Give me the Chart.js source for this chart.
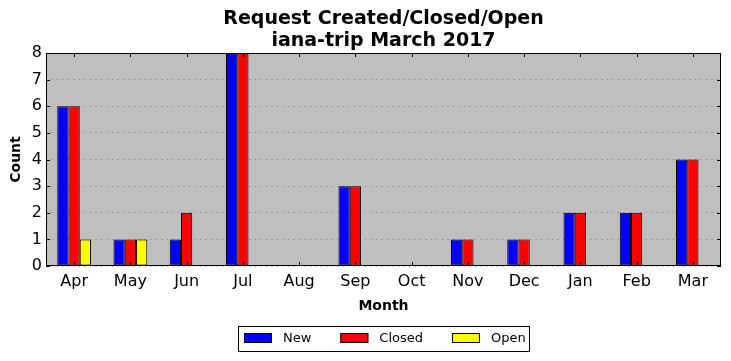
<!DOCTYPE html>
<html>
<head>
<meta charset="utf-8">
<script src="https://cdn.jsdelivr.net/npm/chart.js@4/dist/chart.umd.min.js"></script>
<style>
  html, body { margin: 0; padding: 0; background: #fff; }
  #wrap { width: 731px; height: 361px; }
</style>
</head>
<body>
<div id="wrap"><canvas id="myChart" width="731" height="361"></canvas></div>
<script>
// Daten
const months = ['Apr', 'May', 'Jun', 'Jul', 'Aug', 'Sep', 'Oct', 'Nov', 'Dec', 'Jan', 'Feb', 'Mar'];
const newCounts = [6, 1, 1, 8, 0, 3, 0, 1, 1, 2, 2, 4];
const closedCounts = [6, 1, 2, 8, 0, 3, 0, 1, 1, 2, 2, 4];
const openCounts = [1, 1, 0, 0, 0, 0, 0, 0, 0, 0, 0, 0];
const yTicks = [0, 1, 2, 3, 4, 5, 6, 7, 8];
const titleLines = ['Request Created/Closed/Open', 'iana-trip March 2017'];

const FONT = "'DejaVu Sans', sans-serif";

// Hintergrund, Rahmen, Ticks, Titel und Legende wie matplotlib
const framePlugin = {
    id: 'frame',
    beforeDraw(chart) {
        const a = chart.chartArea;
        const c = chart.ctx;
        c.save();
        c.fillStyle = '#bfbfbf';
        c.fillRect(a.left, a.top, a.right - a.left, a.bottom - a.top);
        c.restore();
    },
    afterDraw(chart) {
        const a = chart.chartArea;
        const c = chart.ctx;
        const x = chart.scales.x;
        const y = chart.scales.y;
        const cx = (a.left + a.right) / 2;
        c.save();
        c.strokeStyle = '#000';
        c.lineWidth = 1;
        c.strokeRect(a.left + 0.5, a.top + 0.5, a.right - a.left - 1, a.bottom - a.top - 1);
        c.beginPath();
        months.forEach((m, i) => {
            const px = Math.round(x.getPixelForValue(i)) + 0.5;
            c.moveTo(px, a.bottom); c.lineTo(px, a.bottom - 4);
            c.moveTo(px, a.top); c.lineTo(px, a.top + 4);
        });
        yTicks.forEach(v => {
            const py = Math.round(y.getPixelForValue(v)) + 0.5;
            c.moveTo(a.left, py); c.lineTo(a.left + 4, py);
            c.moveTo(a.right, py); c.lineTo(a.right - 4, py);
        });
        c.stroke();

        // Titel ueber der Achse zentriert
        c.fillStyle = '#000';
        c.font = 'bold 19px ' + FONT;
        c.textAlign = 'center';
        c.textBaseline = 'middle';
        titleLines.forEach((t, i) => c.fillText(t, cx, 19 + i * 22));

        // Legende selbst zeichnen
        c.font = '13px ' + FONT;
        c.textAlign = 'left';
        const items = chart.data.datasets.map(d => ({ label: d.label, color: d.backgroundColor, w: c.measureText(d.label).width }));
        let total = 0;
        items.forEach((it, i) => { total += 28 + 11 + it.w + (i < items.length - 1 ? 29 : 0); });
        const boxL = cx - (total + 9) / 2;
        const top = 326;
        c.strokeRect(Math.round(boxL) + 0.5, top + 0.5, Math.round(total + 9), 25);
        let px = Math.round(boxL) + 6;
        items.forEach(it => {
            c.fillStyle = it.color;
            c.fillRect(px, 333, 28, 10);
            c.strokeRect(px + 0.5, 333.5, 27, 9);
            c.fillStyle = '#000';
            c.fillText(it.label, px + 39, 339);
            px += 28 + 11 + it.w + 29;
        });
        c.restore();
    }
};

const ctx = document.getElementById('myChart').getContext('2d');

let myChart = new Chart(ctx, {
    type: 'bar',
    data: {
        labels: months,
        datasets: [
            { label: 'New', data: newCounts, backgroundColor: '#0000ff', borderColor: '#000', borderWidth: 1, borderSkipped: false },
            { label: 'Closed', data: closedCounts, backgroundColor: '#ff0000', borderColor: '#000', borderWidth: 1, borderSkipped: false },
            { label: 'Open', data: openCounts, backgroundColor: '#ffff00', borderColor: '#000', borderWidth: 1, borderSkipped: false }
        ]
    },
    options: {
        responsive: false,
        animation: false,
        devicePixelRatio: 1,
        layout: { padding: { left: 0, right: 10, top: 0, bottom: 46 } },
        datasets: { bar: { categoryPercentage: 0.6, barPercentage: 1.0 } },
        plugins: {
            // nur Platzhalter, der Text wird im Plugin gezeichnet
            title: {
                display: true,
                text: titleLines,
                color: 'rgba(0,0,0,0)',
                font: { family: FONT, size: 19, weight: 'bold', lineHeight: 22 / 19 },
                padding: { top: 7, bottom: 2 }
            },
            legend: { display: false },
            tooltip: { enabled: false }
        },
        scales: {
            x: {
                grid: { display: false, drawTicks: false },
                border: { display: false },
                ticks: { color: '#000', font: { family: FONT, size: 16 }, padding: 6 },
                title: { display: true, text: 'Month', color: '#000', font: { family: FONT, size: 14, weight: 'bold' }, padding: { top: 1, bottom: 0 } }
            },
            y: {
                min: 0,
                max: 8,
                afterFit: s => { s.width = 46; },
                grid: { color: 'rgba(0,0,0,0.35)', lineWidth: 1, drawTicks: false },
                border: { display: false, dash: [1, 4.5] },
                ticks: { stepSize: 1, color: '#000', font: { family: FONT, size: 16 }, padding: 4 },
                title: { display: true, text: 'Count', color: '#000', font: { family: FONT, size: 14, weight: 'bold' }, padding: { top: 7.5, bottom: 0 } }
            }
        }
    },
    plugins: [framePlugin]
});
</script>
</body>
</html>
